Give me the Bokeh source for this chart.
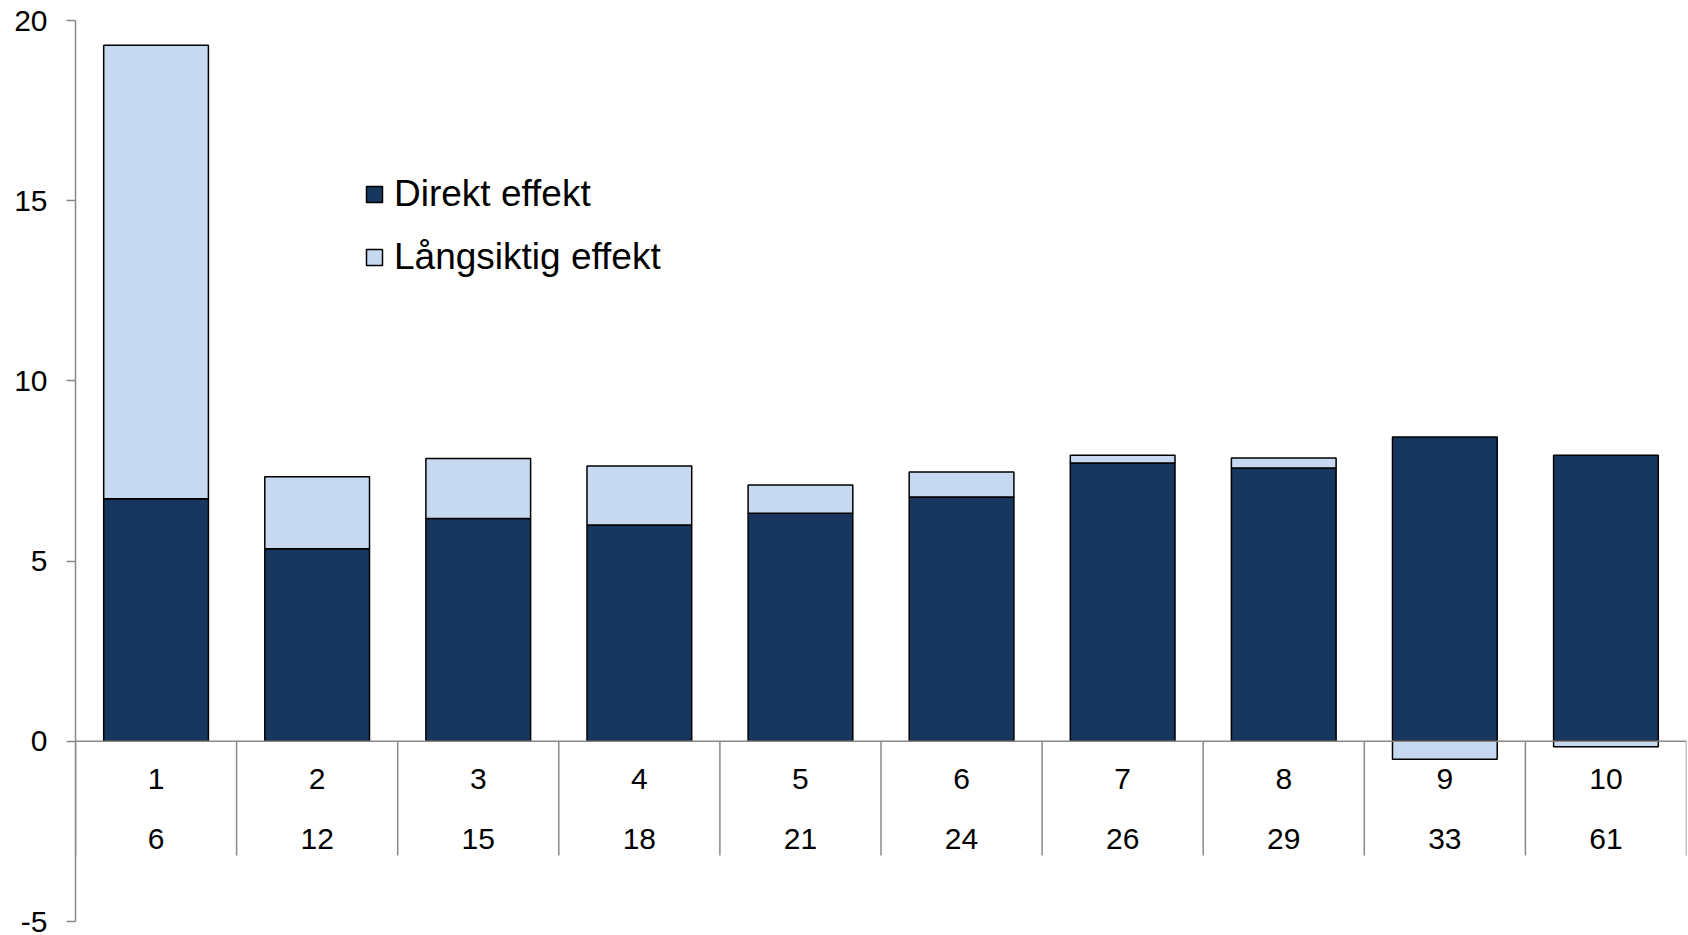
from bokeh.plotting import figure
from bokeh.models import Range1d, LinearAxis, FixedTicker, Span, Legend, LegendItem, ColumnDataSource
from bokeh.core.properties import value
from bokeh.embed import file_html
from bokeh.resources import INLINE

# ---- data ----
groups = ["1", "2", "3", "4", "5", "6", "7", "8", "9", "10"]
sizes = ["6", "12", "15", "18", "21", "24", "26", "29", "33", "61"]
direct = [6.73, 5.34, 6.18, 6.00, 6.33, 6.78, 7.72, 7.58, 8.44, 7.94]
longterm = [12.58, 2.00, 1.67, 1.64, 0.78, 0.69, 0.22, 0.28, -0.50, -0.15]
y_ticks = [-5, 0, 5, 10, 15, 20]

DARK = "#17375E"
LIGHT = "#C6D9F1"
GRAY = "#888888"
FONT = "Liberation Sans"

xs = list(range(1, len(groups) + 1))
light_bottom = [d if l >= 0 else 0 for d, l in zip(direct, longterm)]
light_top = [d + l if l >= 0 else l for d, l in zip(direct, longterm)]

src = ColumnDataSource(dict(x=xs, direct=direct, zero=[0] * len(xs),
                            lb=light_bottom, lt=light_top,
                            g=groups, s=sizes))

p = figure(width=1688, height=935,
           x_range=Range1d(0.5, len(groups) + 0.5), y_range=Range1d(-5, 20),
           output_backend="svg", toolbar_location=None,
           x_axis_location=None, y_axis_location=None,
           min_border_left=75, min_border_right=2,
           min_border_top=20, min_border_bottom=14)
p.xgrid.visible = False
p.ygrid.visible = False
p.outline_line_color = None
p.background_fill_color = "white"

yaxis = LinearAxis(ticker=FixedTicker(ticks=y_ticks))
yaxis.axis_line_color = GRAY
yaxis.axis_line_width = 1.5
yaxis.major_tick_line_color = GRAY
yaxis.major_tick_line_width = 1.5
yaxis.major_tick_in = 0
yaxis.major_tick_out = 9
yaxis.minor_tick_line_color = None
yaxis.major_label_standoff = 19
yaxis.major_label_text_font = FONT
yaxis.major_label_text_font_size = "30px"
yaxis.major_label_text_color = "black"
yaxis.major_label_overrides = {t: str(t) for t in y_ticks}
p.add_layout(yaxis, "left")

r_dark = p.vbar(x="x", bottom="zero", top="direct", width=0.65, source=src,
                fill_color=DARK, line_color="black", line_width=1.5)
r_light = p.vbar(x="x", bottom="lb", top="lt", width=0.65, source=src,
                 fill_color=LIGHT, line_color="black", line_width=1.5)

# category axis: line at zero, separators, two rows of labels
p.add_layout(Span(location=0, dimension="width", line_color=GRAY, line_width=1.5, level="overlay"))
bounds = [i + 0.5 for i in range(len(groups) + 1)]
p.segment(x0=bounds, x1=bounds, y0=[0] * len(bounds), y1=[-3.17] * len(bounds),
          line_color=GRAY, line_width=1.5)
p.text(x="x", y=-1.05, text="g", source=src, text_align="center", text_baseline="middle",
       text_font=value(FONT), text_font_size="30px", text_color="black")
p.text(x="x", y=-2.71, text="s", source=src, text_align="center", text_baseline="middle",
       text_font=value(FONT), text_font_size="30px", text_color="black")

legend = Legend(items=[LegendItem(label="Direkt effekt", renderers=[r_dark]),
                       LegendItem(label="Långsiktig effekt", renderers=[r_light])],
                location=(289, 643), orientation="vertical",
                glyph_width=20, glyph_height=20, label_standoff=10,
                label_text_font=FONT, label_text_font_size="37px", label_text_color="black",
                spacing=21, padding=0, margin=0,
                border_line_color=None, background_fill_alpha=0)
p.add_layout(legend)

open("out.html", "w").write(file_html(p, INLINE))
